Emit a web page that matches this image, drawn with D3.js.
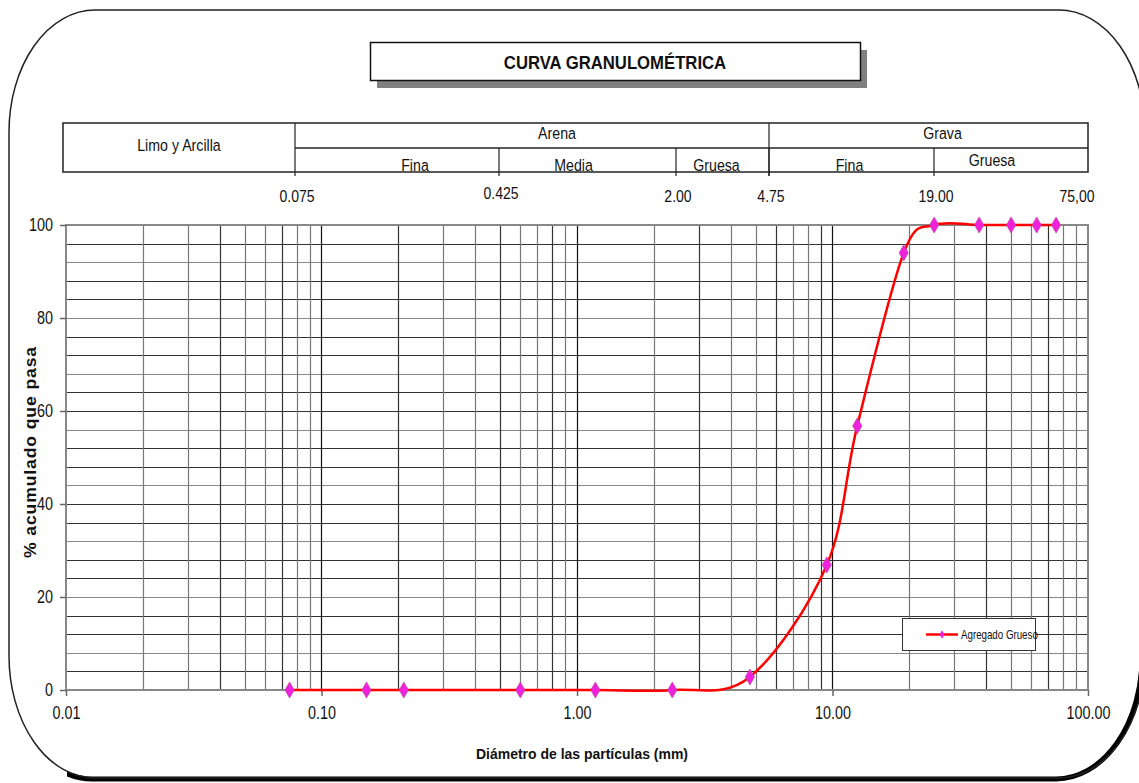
<!DOCTYPE html>
<html>
<head>
<meta charset="utf-8">
<script src="https://cdn.jsdelivr.net/npm/d3@7"></script>
<style>
  body { margin: 0; background: #fff; }
  svg text { font-family: "Liberation Sans", Arial, sans-serif; fill: #111; }
</style>
</head>
<body>
<div id="chart"></div>
<script>
// Tamices (mm) y % acumulado que pasa
const diameters = [0.075, 0.15, 0.21, 0.6, 1.18, 2.36, 4.75, 9.5, 12.5, 19.0, 25.0, 37.5, 50.0, 63.0, 75.0];
const passing = [0, 0, 0, 0, 0, 0, 2.8, 26.9, 56.8, 94.0, 100, 100, 100, 100, 100];

const xTicks = [0.01, 0.1, 1, 10, 100];
const yTicks = [0, 20, 40, 60, 80, 100];

// Clasificación del suelo (cabecera)
const soilGroups = ["Limo y Arcilla", "Arena", "Grava"];
const groupBounds = [0.075, 4.75];
const subNames = ["Fina", "Media", "Gruesa", "Fina", "Gruesa"];
const subBounds = [0.075, 0.425, 2.0, 4.75, 19.0];
const boundLabels = ["0.075", "0.425", "2.00", "4.75", "19.00", "75,00"];
const boundValues = [0.075, 0.425, 2.0, 4.75, 19.0, 75.0];

const seriesName = "Agregado Grueso";

const W = 1139, H = 783;
const margin = { top: 225, right: 51, bottom: 93, left: 66 };
const width = W - margin.left - margin.right;
const height = H - margin.top - margin.bottom;

// the sheet uses a narrow face; squeeze text horizontally
function narrow(sel, s) {
  sel.each(function() {
    const t = d3.select(this);
    const x0 = +t.attr("x") || 0;
    t.attr("x", x0 / s).attr("transform", `scale(${s},1)`);
  });
}

const svg = d3.select("#chart").append("svg")
  .attr("width", W)
  .attr("height", H);

// rounded frame with shadow on the bottom/right
const fx0 = 9, fy0 = 10, fx1 = 1145, fy1 = 778, rx = 86, ry = 122;
const framePath = `M${fx0 + rx},${fy0} L${fx1 - rx},${fy0} A${rx},${ry} 0 0 1 ${fx1},${fy0 + ry}
  L${fx1},${fy1 - ry} A${rx},${ry} 0 0 1 ${fx1 - rx},${fy1} L${fx0 + rx},${fy1}
  A${rx},${ry} 0 0 1 ${fx0},${fy1 - ry} L${fx0},${fy0 + ry} A${rx},${ry} 0 0 1 ${fx0 + rx},${fy0} Z`;
const defs = svg.append("defs");
const clip = defs.append("clipPath").attr("id", "shadowClip");
clip.append("rect").attr("x", 70).attr("y", 745).attr("width", W).attr("height", 60);
clip.append("rect").attr("x", 1085).attr("y", 560).attr("width", 70).attr("height", 240);
svg.append("path")
  .attr("d", framePath)
  .attr("transform", "translate(-3,1)")
  .attr("fill", "none")
  .attr("stroke", "#000")
  .attr("stroke-width", 5)
  .attr("clip-path", "url(#shadowClip)");
svg.append("path")
  .attr("d", framePath)
  .attr("fill", "none")
  .attr("stroke", "#222")
  .attr("stroke-width", 1.5);

// title box
svg.append("rect")
  .attr("x", 377).attr("y", 50).attr("width", 490).attr("height", 38)
  .attr("fill", "#808080");
svg.append("rect")
  .attr("x", 370.5).attr("y", 42.5).attr("width", 490).attr("height", 38)
  .attr("fill", "#fff").attr("stroke", "#111").attr("stroke-width", 1.5);
svg.append("text")
  .attr("x", 615).attr("y", 69)
  .attr("text-anchor", "middle")
  .attr("font-size", 19).attr("font-weight", "bold")
  .text("CURVA GRANULOMÉTRICA")
  .call(narrow, 0.88);

const chart = svg.append("g")
  .attr("transform", `translate(${margin.left},${margin.top})`);

const x = d3.scaleLog().domain([0.01, 100]).range([0, width]);
const y = d3.scaleLinear().domain([0, 100]).range([height, 0]);

// header table (its own piecewise log scale, as laid out in the sheet)
const hx = d3.scaleLog().domain(boundValues).range([295, 499, 676, 769, 934, 1075]);
const hTop = 123, hMid = 148, hBot = 172;
const hLeft = margin.left - 3, hRight = margin.left + width;
const header = svg.append("g");
const gEdges = [hLeft, hx(groupBounds[0]), hx(groupBounds[1]), hRight];
const sEdges = subBounds.map(b => hx(b)).concat([hRight]);

header.append("rect")
  .attr("x", hLeft).attr("y", hTop).attr("width", hRight - hLeft).attr("height", hBot - hTop)
  .attr("fill", "none").attr("stroke", "#222").attr("stroke-width", 1.5);
header.append("line")
  .attr("x1", gEdges[1]).attr("x2", hRight).attr("y1", hMid).attr("y2", hMid)
  .attr("stroke", "#222").attr("stroke-width", 1.5);
header.selectAll(".gsep").data(gEdges.slice(1, 3)).join("line")
  .attr("x1", d => d).attr("x2", d => d).attr("y1", hTop).attr("y2", hBot + 4)
  .attr("stroke", "#222").attr("stroke-width", 1.2);
header.selectAll(".ssep").data(sEdges.slice(1, 5)).join("line")
  .attr("x1", d => d).attr("x2", d => d).attr("y1", hMid).attr("y2", hBot + 4)
  .attr("stroke", "#222").attr("stroke-width", 1.2);
header.selectAll(".gname").data(soilGroups).join("text")
  .attr("x", (d, i) => (gEdges[i] + gEdges[i + 1]) / 2 + (i === 0 ? 0 : (i === 1 ? 25 : 14)))
  .attr("y", (d, i) => i === 0 ? 151 : 139)
  .attr("text-anchor", "middle")
  .attr("font-size", 16.5)
  .text(d => d)
  .call(narrow, 0.86);
header.selectAll(".sname").data(subNames).join("text")
  .attr("x", (d, i) => (sEdges[i] + sEdges[i + 1]) / 2 + [18, -14, -6, -2, -19][i])
  .attr("y", (d, i) => i === 4 ? 166 : 171)
  .attr("text-anchor", "middle")
  .attr("font-size", 16.5)
  .text(d => d)
  .call(narrow, 0.86);
header.selectAll(".blab").data(boundValues).join("text")
  .attr("x", d => hx(d) + 2)
  .attr("y", (d, i) => i === 1 ? 199 : 202)
  .attr("text-anchor", "middle")
  .attr("font-size", 16.5)
  .text((d, i) => boundLabels[i])
  .call(narrow, 0.85);

// grid
const minorX = [];
for (let e = -2; e < 2; e++) for (let k = 2; k <= 9; k++) minorX.push(k * Math.pow(10, e));
const gridY = d3.range(4, 100, 4);

chart.selectAll(".hgrid").data(gridY).join("line")
  .attr("x1", 0).attr("x2", width)
  .attr("y1", d => Math.round(y(d)) + 0.5).attr("y2", d => Math.round(y(d)) + 0.5)
  .attr("stroke", (d, i) => i % 3 === 1 ? "#888" : "#333")
  .attr("stroke-width", 1.2);
chart.selectAll(".vgrid").data(minorX).join("line")
  .attr("x1", d => Math.round(x(d)) + 0.5).attr("x2", d => Math.round(x(d)) + 0.5)
  .attr("y1", 0).attr("y2", height)
  .attr("stroke", (d, i) => i % 3 === 2 ? "#333" : "#777")
  .attr("stroke-width", 1.2);
chart.selectAll(".vmajor").data(xTicks.slice(1, 4)).join("line")
  .attr("x1", d => Math.round(x(d)) + 0.5).attr("x2", d => Math.round(x(d)) + 0.5)
  .attr("y1", 0).attr("y2", height)
  .attr("stroke", "#111").attr("stroke-width", 1.2);

// plot border / axes
chart.append("rect")
  .attr("x", 0).attr("y", 0).attr("width", width).attr("height", height)
  .attr("fill", "none").attr("stroke", "#888").attr("stroke-width", 2);

const xAxis = d3.axisBottom(x).tickValues(xTicks).tickFormat(d3.format(".2f")).tickSize(6).tickPadding(10);
const yAxis = d3.axisLeft(y).tickValues(yTicks).tickSize(6).tickPadding(7);

const xAxisG = chart.append("g")
  .attr("transform", `translate(0,${height})`)
  .call(xAxis);
const yAxisG = chart.append("g").call(yAxis);
[xAxisG, yAxisG].forEach(g => {
  g.select(".domain").remove();
  g.selectAll(".tick line").attr("stroke", "#666").attr("stroke-width", 1.5);
  g.selectAll(".tick text")
    .attr("font-size", 18)
    .attr("font-family", '"Liberation Sans", Arial, sans-serif')
    .attr("fill", "#111")
    .call(narrow, 0.8);
});

chart.append("text")
  .attr("x", 516).attr("y", height + 69)
  .attr("text-anchor", "middle")
  .attr("font-size", 15).attr("font-weight", "bold")
  .attr("textLength", 212).attr("lengthAdjust", "spacingAndGlyphs")
  .text("Diámetro de las partículas (mm)");
chart.append("text")
  .attr("transform", "rotate(-90)")
  .attr("x", -(452 - margin.top)).attr("y", -30)
  .attr("text-anchor", "middle")
  .attr("font-size", 16).attr("font-weight", "bold")
  .attr("letter-spacing", 0.8)
  .attr("textLength", 212).attr("lengthAdjust", "spacingAndGlyphs")
  .text("% acumulado que pasa");

// series
const pts = diameters.map((d, i) => [d, passing[i]]);
const line = d3.line()
  .x(d => x(d[0]))
  .y(d => y(d[1]))
  .curve(d3.curveCardinal.tension(0));
chart.append("path")
  .datum(pts)
  .attr("d", line)
  .attr("fill", "none")
  .attr("stroke", "#ff0000")
  .attr("stroke-width", 2.5);

const diamond = d3.symbol().type(d3.symbolDiamond).size(75);
chart.selectAll(".pt").data(pts).join("path")
  .attr("transform", d => `translate(${x(d[0])},${y(d[1])})`)
  .attr("d", diamond)
  .attr("fill", "#ee22dd")
  .attr("stroke", "#c04090")
  .attr("stroke-width", 0.6);

// legend
const lg = chart.append("g").attr("transform", `translate(${902 - margin.left},${618 - margin.top})`);
lg.append("rect")
  .attr("x", 0.5).attr("y", 0.5).attr("width", 133).attr("height", 32)
  .attr("fill", "#fff").attr("stroke", "#333").attr("stroke-width", 1);
lg.append("line")
  .attr("x1", 24).attr("x2", 56).attr("y1", 16.5).attr("y2", 16.5)
  .attr("stroke", "#ff0000").attr("stroke-width", 2.5);
lg.append("path")
  .attr("transform", "translate(40,16.5)")
  .attr("d", d3.symbol().type(d3.symbolDiamond).size(20))
  .attr("fill", "#ee22dd");
lg.append("text")
  .attr("x", 59).attr("y", 21)
  .attr("font-size", 12.5)
  .text(seriesName)
  .call(narrow, 0.78);
</script>
</body>
</html>
